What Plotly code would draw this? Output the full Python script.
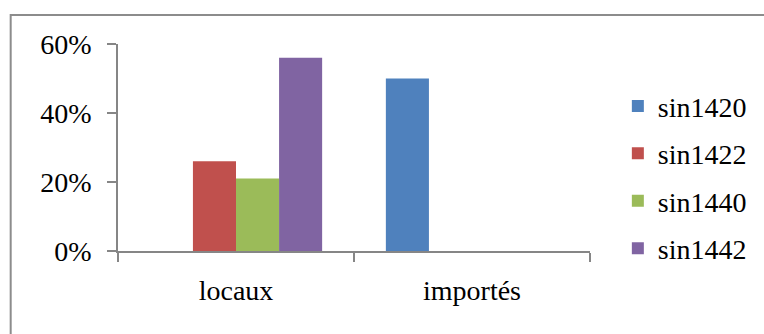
import plotly.graph_objects as go

categories = ["locaux", "importés"]
series_names = ["sin1420", "sin1422", "sin1440", "sin1442"]
sin1420 = [0.00, 0.50]
sin1422 = [0.26, 0.00]
sin1440 = [0.21, 0.00]
sin1442 = [0.56, 0.00]
colors = ["#4F81BD", "#C0504D", "#9BBB59", "#8064A2"]

W, H = 764, 334
ML, MR, MT, MB = 118, 171, 44, 83
FONT = "Liberation Serif"
AXIS_GRAY = "#868686"

fig = go.Figure()
for name, vals, col in zip(series_names, [sin1420, sin1422, sin1440, sin1442], colors):
    fig.add_trace(go.Bar(name=name, x=categories, y=vals, marker_color=col,
                         marker_line_width=0, legendgroup=name))

pw = W - ML - MR
ph = H - MT - MB
# outer chart frame (left/top edges visible, extends past the page)
fx0 = (10 - ML) / pw
fy1 = (H - MB - 15) / ph
fig.add_shape(type="rect", xref="paper", yref="paper",
              x0=fx0, x1=2.0, y0=-2.0, y1=fy1,
              line=dict(color="#8C8C8C", width=2), fillcolor="rgba(0,0,0,0)",
              layer="below")

fig.update_layout(
    width=W, height=H,
    margin=dict(l=ML, r=MR, t=MT, b=MB, pad=0),
    paper_bgcolor="white", plot_bgcolor="white",
    barmode="group", bargap=0.27, bargroupgap=0,
    font=dict(family=FONT, size=28, color="black"),
    showlegend=True,
    legend=dict(x=1.059, xanchor="left", y=0.82, yanchor="top",
                font=dict(family=FONT, size=28, color="black"),
                tracegroupgap=8, itemwidth=30, bgcolor="rgba(0,0,0,0)"),
    xaxis=dict(showline=True, linecolor=AXIS_GRAY, linewidth=1.5,
               ticks="outside", tickson="boundaries", ticklen=9,
               tickcolor=AXIS_GRAY, tickwidth=1.5, showgrid=False,
               ticklabelstandoff=14, tickfont=dict(family=FONT, size=28)),
    yaxis=dict(range=[0, 0.6], dtick=0.2, tickformat=".0%",
               showline=True, linecolor=AXIS_GRAY, linewidth=1.5,
               ticks="outside", ticklen=9, tickcolor=AXIS_GRAY, tickwidth=1.5,
               showgrid=False, zeroline=False, ticklabelstandoff=10,
               tickfont=dict(family=FONT, size=28)),
)

fig.write_html("out.html")
